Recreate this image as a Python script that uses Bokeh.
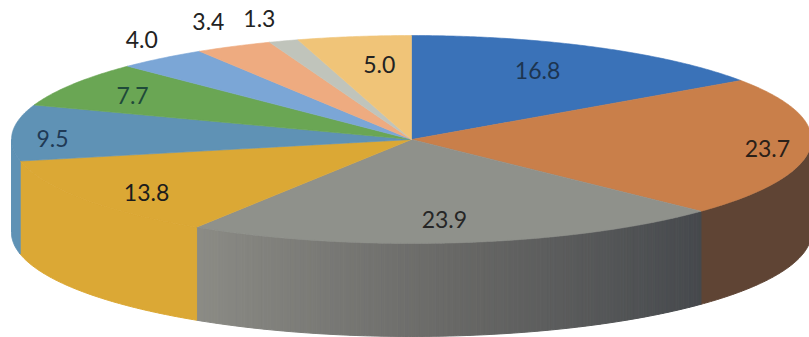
import math

from bokeh.core.properties import value
from bokeh.embed import file_html
from bokeh.models import ColumnDataSource, Range1d
from bokeh.plotting import figure
from bokeh.resources import INLINE

# Slice values, clockwise from twelve o'clock
values = [16.8, 23.7, 23.9, 13.8, 9.5, 7.7, 4.0, 3.4, 1.3, 5.0]
labels = ["16.8", "23.7", "23.9", "13.8", "9.5", "7.7", "4.0", "3.4", "1.3", "5.0"]
top_colors = ["#3a72b8", "#c97f4a", "#8f918b", "#dba835", "#5f92b5",
              "#6aa654", "#7ba6d6", "#eeab80", "#c0c4bb", "#f0c478"]
side_colors = ["#2a5488", "#5f4434", "#6a6a68", "#dba835", "#5f92b5",
               "#4f7d3f", "#5b7ea3", "#b5825f", "#90938b", "#b8955b"]
text_colors = ["#1d3550", "#2a2018", "#262626", "#1c1c1c", "#1f3a55",
               "#1f4a3a", "#222222", "#222222", "#222222", "#222222"]

# Label placement: reach along the slice radius and a small angular nudge
label_reach = [0.726, 0.895, 0.783, 0.842, 0.8975, 0.81, 1.167, 1.234, 1.215, 0.716]
label_turn = [-2.0, 1.7, 0.9, -3.4, -3.7, -1.5, 3.3, 2.1, 0.4, 1.8]

# Disc geometry in page pixels
CX, CY, RX, RY, DEPTH = 411.0, 139.0, 400.0, 104.0, 93.0

# Shading of the long grey wall, from its left end to its right end
WALL_LEFT = (140, 140, 134)
WALL_MID = (104, 104, 102)
WALL_RIGHT = (70, 73, 77)


def rim(angle_deg, drop=0.0):
    a = math.radians(angle_deg)
    return CX + RX * math.sin(a), CY - RY * math.cos(a) + drop


def arc(start, end, drop=0.0):
    n = max(2, int(abs(end - start) * 2) + 2)
    pts = [rim(start + (end - start) * i / (n - 1), drop) for i in range(n)]
    return [q[0] for q in pts], [q[1] for q in pts]


total = sum(values)
edges = [0.0]
for v in values:
    edges.append(edges[-1] + v / total * 360.0)

p = figure(width=809, height=337, output_backend="svg", toolbar_location=None,
           x_range=Range1d(0, 809), y_range=Range1d(337, 0), min_border=0)
p.axis.visible = False
p.grid.visible = False
p.outline_line_color = None
p.background_fill_color = "white"
p.border_fill_color = "white"

# Outer wall: only the near half of the rim shows
wall_xs, wall_ys, wall_cols = [], [], []
for i, col in enumerate(side_colors):
    a0, a1 = max(edges[i], 90.0), min(edges[i + 1], 270.0)
    if a1 <= a0:
        continue
    steps = 160 if i == 2 else 1
    for s in range(steps):
        b0 = a0 + (a1 - a0) * s / steps
        b1 = a0 + (a1 - a0) * (s + 1) / steps
        tx, ty = arc(b0, b1)
        bx, by = arc(b0, b1, DEPTH)
        wall_xs.append(tx + bx[::-1])
        wall_ys.append(ty + by[::-1])
        if i == 2:
            # angles run right to left along this wall
            t = 1 - (s + 0.5) / steps
            lo, hi, f = (WALL_LEFT, WALL_MID, t * 2) if t < 0.5 else (WALL_MID, WALL_RIGHT, t * 2 - 1)
            rgb = tuple(int(lo[k] + (hi[k] - lo[k]) * f) for k in range(3))
            wall_cols.append("#%02x%02x%02x" % rgb)
        else:
            wall_cols.append(col)
p.patches("xs", "ys", fill_color="cols", line_color="cols", line_width=1,
          source=ColumnDataSource(dict(xs=wall_xs, ys=wall_ys, cols=wall_cols)))

# Top face
top_xs, top_ys = [], []
for i in range(len(values)):
    ax, ay = arc(edges[i], edges[i + 1])
    top_xs.append([CX] + ax)
    top_ys.append([CY] + ay)
p.patches("xs", "ys", fill_color="cols", line_color="cols", line_width=0.6,
          source=ColumnDataSource(dict(xs=top_xs, ys=top_ys, cols=top_colors)))

# Value labels
lx, ly = [], []
for i in range(len(values)):
    mid = (edges[i] + edges[i + 1]) / 2 + label_turn[i]
    a = math.radians(mid)
    lx.append(CX + label_reach[i] * RX * math.sin(a))
    ly.append(CY - 1 - label_reach[i] * RY * math.cos(a))
p.text("x", "y", text="t", text_color="c", text_font=value("Lato"), text_font_size="23px",
       text_align="center", text_baseline="middle",
       source=ColumnDataSource(dict(x=lx, y=ly, t=labels, c=text_colors)))

with open("out.html", "w") as f:
    f.write(file_html(p, INLINE))
